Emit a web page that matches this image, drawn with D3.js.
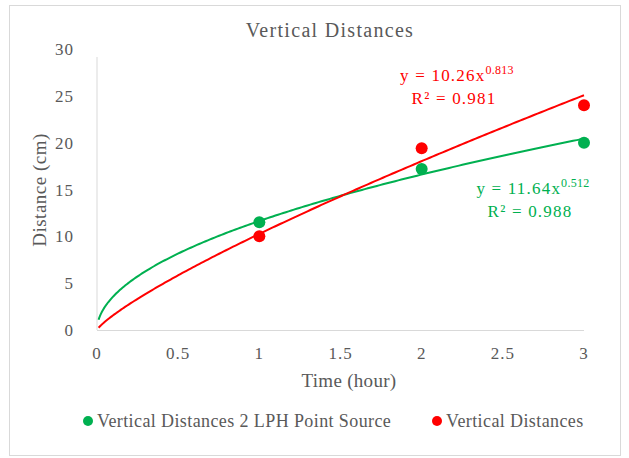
<!DOCTYPE html>
<html>
<head>
<meta charset="utf-8">
<script src="https://d3js.org/d3.v7.min.js"></script>
<style>
  body { margin: 0; background: #fff; }
  text { font-family: "Liberation Serif", "Times New Roman", serif; }
</style>
</head>
<body>
<svg width="629" height="458"></svg>
<script>
// data
var times = [1, 2, 3];
var greenDist = [11.5, 17.2, 20.0];
var redDist = [10.0, 19.4, 24.0];
var xTicks = [0, 0.5, 1, 1.5, 2, 2.5, 3];
var yTicks = [0, 5, 10, 15, 20, 25, 30];
// power trendlines y = a * x^b as printed on the chart
var greenFit = { a: 11.64, b: 0.512, r2: "0.988" };
var redFit = { a: 10.26, b: 0.813, r2: "0.981" };
var fitStart = 0.01;

var svg = d3.select("svg");
var grey = "#595959";
var green = "#00B050", red = "#FF0000";

svg.append("rect")
  .attr("x", 9.5).attr("y", 5.5)
  .attr("width", 611).attr("height", 450)
  .attr("fill", "#fff").attr("stroke", "#d9d9d9");

var x = d3.scaleLinear().domain([0, 3]).range([97, 584]);
var y = d3.scaleLinear().domain([0, 30]).range([330, 49]);

// axes lines
svg.append("line")
  .attr("x1", x(0)).attr("x2", x(0))
  .attr("y1", y(30) + 8).attr("y2", y(0))
  .attr("stroke", "#d9d9d9");
svg.append("line")
  .attr("x1", x(0)).attr("x2", x(3))
  .attr("y1", y(0) + 0.5).attr("y2", y(0) + 0.5)
  .attr("stroke", "#d9d9d9");

svg.selectAll(".ytick").data(yTicks).enter().append("text")
  .attr("x", 74).attr("y", d => y(d) + 6)
  .attr("text-anchor", "end")
  .attr("fill", grey).attr("font-size", 17)
  .attr("letter-spacing", 1)
  .text(d => d);

svg.selectAll(".xtick").data(xTicks).enter().append("text")
  .attr("x", d => x(d)).attr("y", 359)
  .attr("text-anchor", "middle")
  .attr("fill", grey).attr("font-size", 17)
  .attr("letter-spacing", 1)
  .text(d => d);

svg.append("text")
  .attr("x", 330).attr("y", 37)
  .attr("text-anchor", "middle")
  .attr("fill", grey).attr("font-size", 20)
  .attr("letter-spacing", 1.3)
  .text("Vertical Distances");

svg.append("text")
  .attr("x", 349).attr("y", 387)
  .attr("text-anchor", "middle")
  .attr("fill", grey).attr("font-size", 19)
  .attr("letter-spacing", 0.3)
  .text("Time (hour)");

svg.append("text")
  .attr("transform", "translate(46,190) rotate(-90)")
  .attr("text-anchor", "middle")
  .attr("fill", grey).attr("font-size", 19)
  .attr("letter-spacing", 0.5)
  .text("Distance (cm)");

// trendlines
function fitPoints(f) {
  var pts = [];
  for (var i = 0; i <= 200; i++) {
    var t = fitStart + (3 - fitStart) * Math.pow(i / 200, 1.5);
    pts.push([t, f.a * Math.pow(t, f.b)]);
  }
  return pts;
}
var line = d3.line().x(d => x(d[0])).y(d => y(d[1]));
svg.append("path").datum(fitPoints(greenFit))
  .attr("d", line).attr("fill", "none")
  .attr("stroke", green).attr("stroke-width", 2);
svg.append("path").datum(fitPoints(redFit))
  .attr("d", line).attr("fill", "none")
  .attr("stroke", red).attr("stroke-width", 2);

// points
svg.selectAll(".g").data(times).enter().append("circle")
  .attr("cx", d => x(d)).attr("cy", (d, i) => y(greenDist[i]))
  .attr("r", 6).attr("fill", green);
svg.selectAll(".r").data(times).enter().append("circle")
  .attr("cx", d => x(d)).attr("cy", (d, i) => y(redDist[i]))
  .attr("r", 6).attr("fill", red);

// equation labels
function eqLabel(f, cx, cy, col) {
  var t = svg.append("text")
    .attr("x", cx).attr("y", cy)
    .attr("text-anchor", "middle")
    .attr("fill", col).attr("font-size", 17)
    .attr("letter-spacing", 1.2);
  t.append("tspan").text("y = " + f.a.toFixed(2) + "x");
  t.append("tspan").attr("dy", -7).attr("font-size", 12).attr("letter-spacing", 0.3).text(f.b);
  svg.append("text")
    .attr("x", cx - 3).attr("y", cy + 23)
    .attr("text-anchor", "middle")
    .attr("fill", col).attr("font-size", 17)
    .attr("letter-spacing", 1.2)
    .text("R\u00B2 = " + f.r2);
}
eqLabel(redFit, 457, 81, red);
eqLabel(greenFit, 533, 194, green);

// legend
var legend = [
  { name: "Vertical Distances 2 LPH Point Source", color: green, x: 88 },
  { name: "Vertical Distances", color: red, x: 437 }
];
var lg = svg.selectAll(".lg").data(legend).enter().append("g");
lg.append("circle")
  .attr("cx", d => d.x).attr("cy", 421).attr("r", 5)
  .attr("fill", d => d.color);
lg.append("text")
  .attr("x", d => d.x + 9).attr("y", 427)
  .attr("fill", grey).attr("font-size", 18)
  .attr("letter-spacing", 0.4)
  .text(d => d.name);
</script>
</body>
</html>
